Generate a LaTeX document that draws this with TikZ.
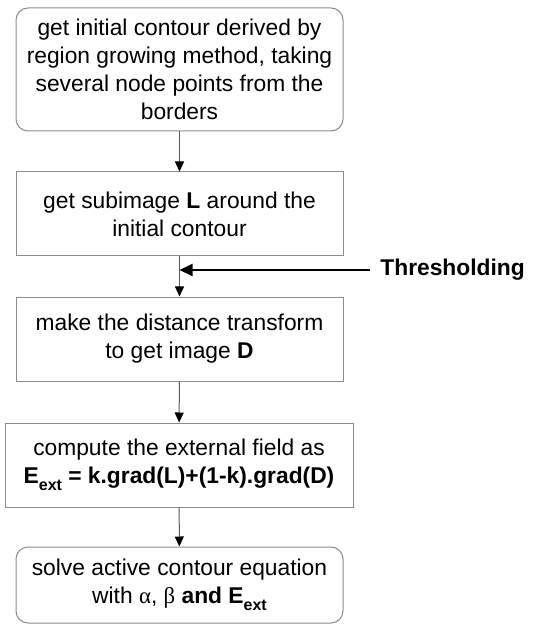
\documentclass[tikz,border=0pt]{standalone}
\usepackage{fontspec}
\setmainfont{Liberation Sans}
\newfontfamily\grk{Liberation Serif}
\usepackage{tikz}
\usetikzlibrary{arrows.meta}
\definecolor{boxgray}{HTML}{8C8C8C}
\definecolor{linegray}{HTML}{5A5A5A}
\newcommand{\Eext}{\textbf{E}\raisebox{-0.6ex}{\fontsize{8}{8}\selectfont\bfseries ext}}

\begin{document}
\begin{tikzpicture}[x=0.5pt,y=-0.5pt,
  every node/.style={font=\fontsize{11.4}{14}\selectfont, align=center, inner sep=0pt},
  stepbox/.style={draw=boxgray, line width=0.5pt, minimum width=163.5pt, minimum height=42pt},
  endbox/.style={stepbox, rounded corners=6pt},
  flow/.style={draw=linegray, line width=0.5pt, -{Triangle[width=4.5pt,length=5pt,black]}},
  side/.style={line width=1pt, -{Triangle[width=6pt,length=6.5pt]}}]
  \useasboundingbox (0,0) rectangle (533,625);
  % boxes
  \node[endbox, minimum height=61.5pt] (init) at (179.5,69.5) {get initial contour derived by\\region growing method, taking\\several node points from the\\borders};
  \node[stepbox] (sub) at (179.5,214) {get subimage \textbf{L} around the\\initial contour};
  \node[stepbox] (dist) at (179.5,339) {make the distance transform\\to get image \textbf{D}};
  \node[stepbox, minimum width=174pt] (field) at (179,465) {compute the external field as\\\Eext\ \textbf{= k.grad(L)+(1-k).grad(D)}};
  \node[endbox, minimum height=38pt] (solve) at (179.5,585) {solve active contour equation\\with {\grk α}, {\grk β} \textbf{and} \Eext};
  \node[font=\fontsize{11.4}{14}\selectfont\bfseries, anchor=west, inner sep=5pt] (thr) at (370,270) {Thresholding};
  \coordinate (join) at (179.5,270);
  % arrows
  \draw[flow] (init) -- (sub);
  \draw[flow] (sub) -- (dist);
  \draw[flow] (dist) -- (field);
  \draw[flow] (field) -- (solve);
  \draw[side] (thr) -- (join);
\end{tikzpicture}
\end{document}
